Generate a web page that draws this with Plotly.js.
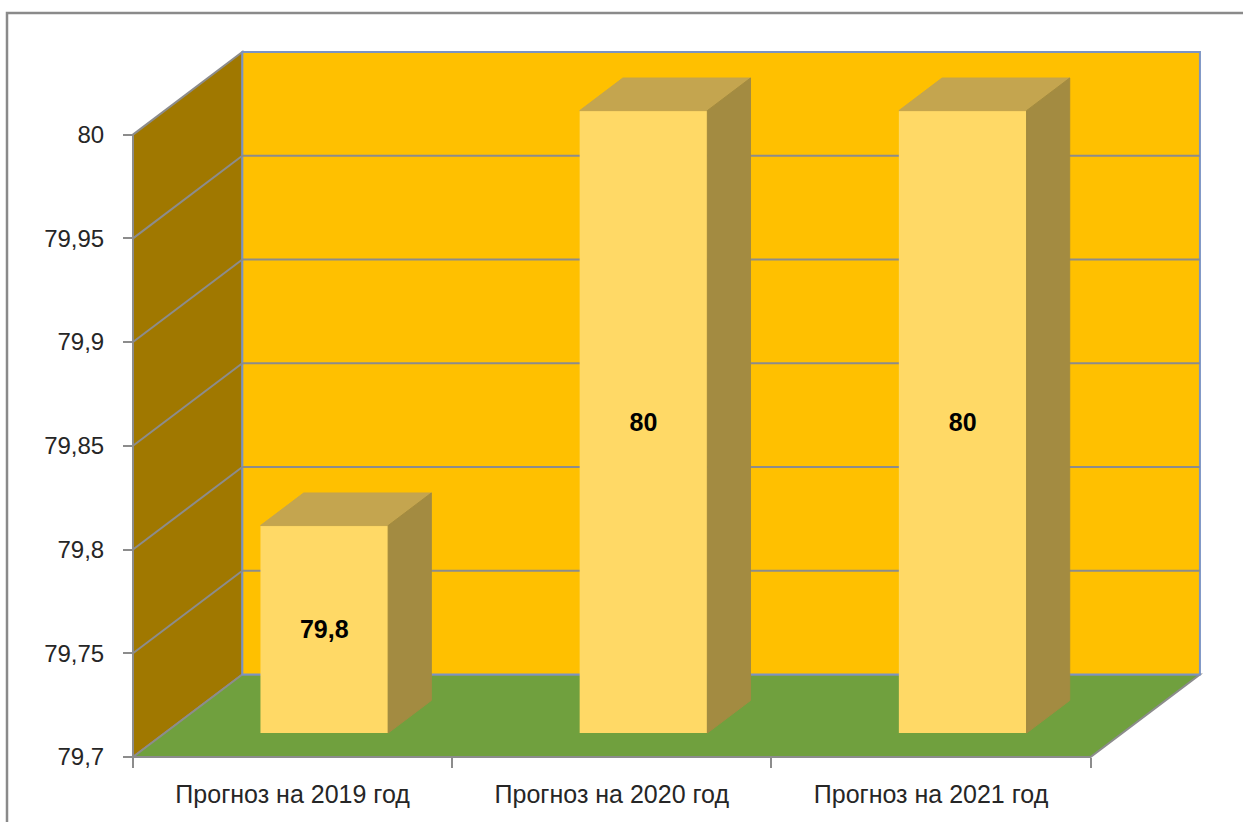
<!DOCTYPE html>
<html>
<head>
<meta charset="utf-8">
<script src="https://cdn.plot.ly/plotly-3.0.1.min.js"></script>
<style>
  html, body { margin: 0; padding: 0; background: #ffffff; }
  #chart { width: 1243px; height: 822px; }
</style>
</head>
<body>
<div id="chart"></div>
<script>
// ---- data ----
const categories = ['Прогноз на 2019 год', 'Прогноз на 2020 год', 'Прогноз на 2021 год'];
const values = [79.8, 80, 80];
const valueLabels = ['79,8', '80', '80'];
const yTickVals = [79.7, 79.75, 79.8, 79.85, 79.9, 79.95, 80];
const yTickText = ['79,7', '79,75', '79,8', '79,85', '79,9', '79,95', '80'];

// ---- geometry / style ----
const FLOOR = yTickVals[0];
const CEIL = yTickVals[yTickVals.length - 1];
const N = categories.length;
const DX = 0.3425;     // depth offset of the back wall (category units)
const DY = 0.0398;     // depth offset of the back wall (value units)
const BAR_W = 0.4;
const F0 = 0.29;       // bar front depth fraction
const FD = 0.395;      // bar depth fraction
const PPX = 319.2, PPY = 2074.7, PAD = 4;
const M = {l: 129, r: 39, t: 48, b: 61};
const plotW = 1243 - M.l - M.r, plotH = 822 - M.t - M.b;
const xr = [-0.5 - PAD / PPX, -0.5 - PAD / PPX + plotW / PPX];
const yr = [FLOOR - PAD / PPY, FLOOR - PAD / PPY + plotH / PPY];

const GRID = '#8c8c8c';
const C_LEFT = '#a07800', C_BACK = '#ffc000', C_FLOOR = '#70a03e';
const C_FRONT = '#ffd966', C_TOP = '#c4a54f', C_SIDE = '#a38b41';

function path(pts) {
  return 'M' + pts.map(p => p[0] + ',' + p[1]).join('L') + 'Z';
}

const x0w = -0.5, x1w = N - 0.5;
const shapes = [];
// left wall
shapes.push({type: 'path', xref: 'x', yref: 'y', layer: 'below',
  path: path([[x0w, FLOOR], [x0w, CEIL], [x0w + DX, CEIL + DY], [x0w + DX, FLOOR + DY]]),
  fillcolor: C_LEFT, line: {color: GRID, width: 2}});
// floor
shapes.push({type: 'path', xref: 'x', yref: 'y', layer: 'below',
  path: path([[x0w, FLOOR], [x1w, FLOOR], [x1w + DX, FLOOR + DY], [x0w + DX, FLOOR + DY]]),
  fillcolor: C_FLOOR, line: {color: GRID, width: 2}});
// back wall
shapes.push({type: 'rect', xref: 'x', yref: 'y', layer: 'below',
  x0: x0w + DX, x1: x1w + DX, y0: FLOOR + DY, y1: CEIL + DY,
  fillcolor: C_BACK, line: {color: '#7b93c4', width: 2}});
// gridlines
yTickVals.slice(1, -1).forEach(t => {
  shapes.push({type: 'line', xref: 'x', yref: 'y', layer: 'below',
    x0: x0w + DX, x1: x1w + DX, y0: t + DY, y1: t + DY, line: {color: GRID, width: 2}});
  shapes.push({type: 'line', xref: 'x', yref: 'y', layer: 'below',
    x0: x0w, x1: x0w + DX, y0: t, y1: t + DY, line: {color: GRID, width: 2}});
});
// outer chart border
shapes.push({type: 'rect', xref: 'paper', yref: 'paper', layer: 'above',
  x0: (7 - M.l) / plotW, x1: 1.3, y0: -0.3, y1: (822 - M.b - 13) / plotH,
  fillcolor: 'rgba(0,0,0,0)', line: {color: '#8a8a8a', width: 2.5}});

const traces = [];
// front faces of bars
traces.push({
  type: 'bar', xaxis: 'x', yaxis: 'y',
  x: values.map((v, i) => i + F0 * DX),
  y: values.map(v => v - FLOOR),
  base: values.map(() => FLOOR + F0 * DY),
  width: BAR_W,
  marker: {color: C_FRONT, line: {width: 0}},
  text: valueLabels, textposition: 'inside', insidetextanchor: 'middle',
  textangle: 0, constraintext: 'none',
  textfont: {family: 'Liberation Sans, Arial, sans-serif', size: 25, color: '#000000', weight: 'bold'},
  hoverinfo: 'skip', showlegend: false
});
// top and side faces
values.forEach((v, i) => {
  const xa = i + F0 * DX - BAR_W / 2, xb = xa + BAR_W;
  const yb = FLOOR + F0 * DY, yt = v + F0 * DY;
  const ddx = FD * DX, ddy = FD * DY;
  traces.push({type: 'scatter', mode: 'lines', fill: 'toself', xaxis: 'x', yaxis: 'y',
    x: [xa, xb, xb + ddx, xa + ddx, xa], y: [yt, yt, yt + ddy, yt + ddy, yt],
    fillcolor: C_TOP, line: {color: C_TOP, width: 1}, hoverinfo: 'skip', showlegend: false});
  traces.push({type: 'scatter', mode: 'lines', fill: 'toself', xaxis: 'x', yaxis: 'y',
    x: [xb, xb, xb + ddx, xb + ddx, xb], y: [yb, yt, yt + ddy, yb + ddy, yb],
    fillcolor: C_SIDE, line: {color: C_SIDE, width: 1}, hoverinfo: 'skip', showlegend: false});
});
// carrier for category label axis
traces.push({type: 'scatter', mode: 'markers', xaxis: 'x2', yaxis: 'y',
  x: categories.map((c, i) => i), y: values, marker: {opacity: 0, size: 1},
  hoverinfo: 'skip', showlegend: false});

const tickFont = {family: 'Liberation Sans, Arial, sans-serif', size: 24, color: '#262626'};
const layout = {
  width: 1243, height: 822,
  margin: M,
  paper_bgcolor: '#ffffff', plot_bgcolor: 'rgba(0,0,0,0)',
  showlegend: false, hovermode: false,
  separators: ', ',
  xaxis: {range: xr, anchor: 'free', position: PAD / plotH,
    tickmode: 'array', tickvals: [-0.5, 0.5, 1.5, 2.5], ticktext: ['', '', '', ''],
    ticks: 'outside', ticklen: 10, tickwidth: 2, tickcolor: GRID,
    showgrid: false, zeroline: false, showline: false, fixedrange: true},
  xaxis2: {range: xr, overlaying: 'x', anchor: 'free', position: PAD / plotH, side: 'bottom',
    tickmode: 'array', tickvals: categories.map((c, i) => i), ticktext: categories,
    ticks: '', ticklabelstandoff: 20,
    tickfont: {family: 'Liberation Sans, Arial, sans-serif', size: 25, color: '#262626'},
    showgrid: false, zeroline: false, showline: false, fixedrange: true},
  yaxis: {range: yr, anchor: 'free', position: PAD / plotW,
    tickmode: 'array', tickvals: yTickVals, ticktext: yTickText,
    ticks: 'outside', ticklen: 10, tickwidth: 2, tickcolor: GRID, ticklabelstandoff: 14,
    tickfont: tickFont,
    showgrid: false, zeroline: false, showline: false, fixedrange: true},
  shapes: shapes
};

Plotly.newPlot('chart', traces, layout, {staticPlot: true, displayModeBar: false});
</script>
</body>
</html>
